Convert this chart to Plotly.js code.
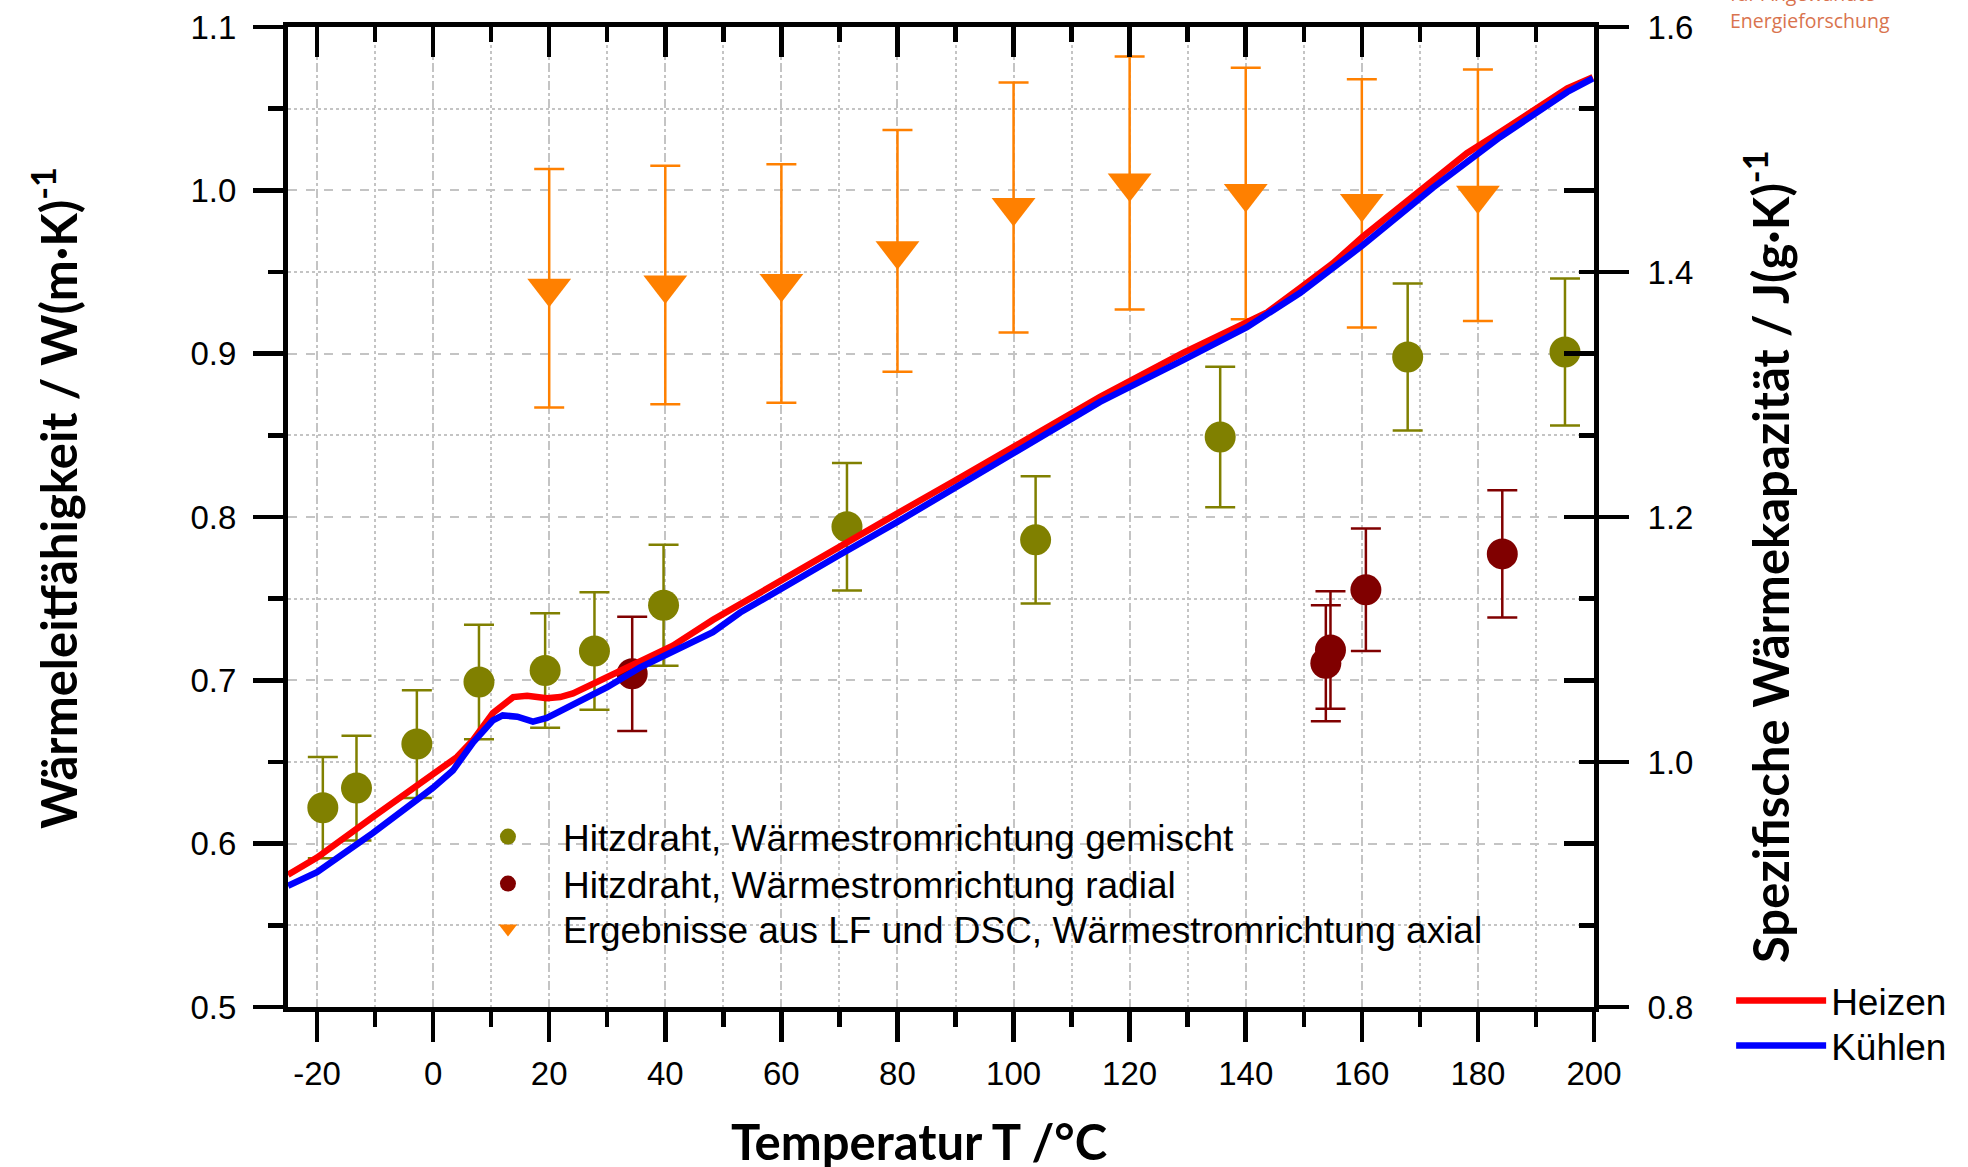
<!DOCTYPE html>
<html>
<head>
<meta charset="utf-8">
<script src="https://cdn.plot.ly/plotly-3.0.1.min.js"></script>
<style>html,body{margin:0;padding:0;background:#fff;}#chart{width:1968px;height:1167px;}</style>
</head>
<body>
<div id="chart"></div>
<script>
// Thermal conductivity measurements (left axis, W/(m·K))
const tempMixed   = [-19.0, -13.2, -2.8, 7.9, 19.3, 27.8, 39.7, 71.3, 103.8, 135.6, 167.9, 195.0];
const lambdaMixed = [0.622, 0.634, 0.661, 0.699, 0.706, 0.718, 0.746, 0.794, 0.786, 0.849, 0.898, 0.901];
const errMixed    = [0.031, 0.032, 0.033, 0.035, 0.035, 0.036, 0.037, 0.039, 0.039, 0.043, 0.045, 0.045];

const tempRadial   = [34.3, 153.8, 154.6, 160.7, 184.2];
const lambdaRadial = [0.704, 0.7105, 0.7186, 0.7554, 0.7774];
const errRadial    = [0.035, 0.0355, 0.036, 0.0375, 0.039];

const tempAxial   = [20, 40, 60, 80, 100, 120, 140, 160, 180];
const lambdaAxial = [0.940, 0.942, 0.943, 0.963, 0.9895, 1.0045, 0.998, 0.992, 0.997];
const errAxial    = [0.073, 0.073, 0.073, 0.074, 0.0765, 0.0775, 0.077, 0.076, 0.077];

// Specific heat capacity curves (right axis, J/(g·K))
const tempHeat = [-25, -20, -10.4, 0, 4.1, 6.9, 10.3, 13.8, 16.2, 19.6, 21.9, 24.1, 30, 35.6, 41.3, 48.2, 52.9, 60, 70, 80, 90, 100, 110, 114.9, 129.2, 140.2, 143.7, 149.4, 155, 160.2, 166.6, 172.3, 178.1, 183.8, 189.5, 195.4, 199.8];
const cpHeat   = [0.908, 0.922, 0.955, 0.991, 1.004, 1.018, 1.040, 1.053, 1.054, 1.052, 1.053, 1.056, 1.069, 1.082, 1.095, 1.116, 1.129, 1.149, 1.176, 1.203, 1.230, 1.257, 1.284, 1.298, 1.334, 1.359, 1.367, 1.387, 1.407, 1.429, 1.453, 1.475, 1.497, 1.514, 1.532, 1.550, 1.559];

const tempCool = [-25, -20, -10.4, 0, 3.4, 6.9, 10.3, 12.0, 14.5, 17.2, 19.6, 24.1, 30, 35.6, 41.3, 48.2, 52.9, 60, 70, 80, 90, 100, 110, 114.9, 129.2, 140.2, 149.4, 160.2, 172.3, 183.8, 195.4, 199.8];
const cpCool   = [0.899, 0.910, 0.942, 0.979, 0.993, 1.016, 1.034, 1.038, 1.037, 1.033, 1.036, 1.047, 1.061, 1.077, 1.090, 1.106, 1.122, 1.142, 1.169, 1.196, 1.224, 1.252, 1.281, 1.294, 1.328, 1.355, 1.383, 1.422, 1.469, 1.510, 1.547, 1.558];

// Tick labels
const xTickVals = [-20, 0, 20, 40, 60, 80, 100, 120, 140, 160, 180, 200];
const xTickText = ['-20', '0', '20', '40', '60', '80', '100', '120', '140', '160', '180', '200'];

// Titles
const xTitle  = 'Temperatur T /°C';
const yTitle  = 'Wärmeleitfähigkeit / W(m·K)<sup>-1</sup>';
const y2Title = 'Spezifische Wärmekapazität / J(g·K)<sup>-1</sup>';

const names = {
  mixed: 'Hitzdraht, Wärmestromrichtung gemischt',
  radial: 'Hitzdraht, Wärmestromrichtung radial',
  axial: 'Ergebnisse aus LF und DSC, Wärmestromrichtung axial',
  heat: 'Heizen',
  cool: 'Kühlen'
};

const OLIVE = '#808000', DARKRED = '#800000', ORANGE = '#ff8000';
const GRID = '#c4c4c4';
const TITLEFONT = {family: 'Lato, "Open Sans", sans-serif', size: 49, weight: 700, color: '#000'};
const LEGFONT = {family: '"Liberation Sans", Arial, sans-serif', size: 37, color: '#000'};

const traces = [
  {type: 'scatter', mode: 'markers', name: names.mixed, x: tempMixed, y: lambdaMixed,
   xaxis: 'x', yaxis: 'y', legend: 'legend',
   marker: {symbol: 'circle', size: 31, color: OLIVE},
   error_y: {type: 'data', array: errMixed, visible: true, color: OLIVE, thickness: 2.5, width: 15}},
  {type: 'scatter', mode: 'markers', name: names.radial, x: tempRadial, y: lambdaRadial,
   xaxis: 'x', yaxis: 'y', legend: 'legend3',
   marker: {symbol: 'circle', size: 31, color: DARKRED},
   error_y: {type: 'data', array: errRadial, visible: true, color: DARKRED, thickness: 2.5, width: 15}},
  {type: 'scatter', mode: 'markers', name: names.axial, x: tempAxial, y: lambdaAxial,
   xaxis: 'x', yaxis: 'y', legend: 'legend4',
   marker: {symbol: 'triangle-down', size: 38, color: ORANGE},
   error_y: {type: 'data', array: errAxial, visible: true, color: ORANGE, thickness: 2.5, width: 15}},
  {type: 'scatter', mode: 'lines', name: names.heat, x: tempHeat, y: cpHeat,
   xaxis: 'x', yaxis: 'y2', legend: 'legend2',
   line: {color: '#ff0000', width: 6.5}},
  {type: 'scatter', mode: 'lines', name: names.cool, x: tempCool, y: cpCool,
   xaxis: 'x', yaxis: 'y2', legend: 'legend5',
   line: {color: '#0000ff', width: 6.5}},
  // carrier for the mirrored top / right frame axes
  {type: 'scatter', mode: 'markers', x: [], y: [], xaxis: 'x2', yaxis: 'y3', showlegend: false, hoverinfo: 'skip'}
];

const tickCommon = {tickcolor: '#000', tickwidth: 4.5, showline: true, linecolor: '#000', linewidth: 5, zeroline: false};
function leg(x, y, w) {
  return {x: x, y: y, xanchor: 'left', yanchor: 'top', bgcolor: 'rgba(0,0,0,0)', borderwidth: 0,
          font: LEGFONT, itemsizing: 'trace', itemwidth: w, tracegroupgap: 0};
}

const layout = {
  width: 1968, height: 1167,
  margin: {l: 288, r: 374, t: 27, b: 160, pad: 0},
  paper_bgcolor: '#fff', plot_bgcolor: '#fff',
  font: {family: '"Liberation Sans", Arial, sans-serif', size: 33, color: '#000'},
  showlegend: true,
  xaxis: Object.assign({}, tickCommon, {
    range: [-25, 200.0001], tickmode: 'array', tickvals: xTickVals, ticktext: xTickText,
    ticks: 'outside', ticklen: 30, ticklabelstandoff: 3,
    showgrid: true, gridcolor: GRID, gridwidth: 2, griddash: 'dash',
    minor: {tickmode: 'linear', tick0: 0, dtick: 10, ticks: 'outside', ticklen: 15, tickwidth: 4.5, tickcolor: '#000',
            showgrid: true, gridcolor: GRID, gridwidth: 2, griddash: 'dot'}
  }),
  xaxis2: Object.assign({}, tickCommon, {
    overlaying: 'x', side: 'top', anchor: 'y3', range: [-25, 200.0001], tick0: 0, dtick: 20,
    ticks: 'inside', ticklen: 30, showticklabels: false, showgrid: false,
    minor: {dtick: 10, ticks: 'inside', ticklen: 15, tickwidth: 4.5, tickcolor: '#000', showgrid: false}
  }),
  yaxis: Object.assign({}, tickCommon, {
    range: [0.49999, 1.10001], tick0: 0.5, dtick: 0.1, tickformat: '.1f',
    ticks: 'outside', ticklen: 30, ticklabelstandoff: 10,
    showgrid: true, gridcolor: GRID, gridwidth: 2, griddash: 'dash',
    minor: {dtick: 0.05, ticks: 'outside', ticklen: 15, tickwidth: 4.5, tickcolor: '#000',
            showgrid: true, gridcolor: GRID, gridwidth: 2, griddash: 'dot'}
  }),
  yaxis2: Object.assign({}, tickCommon, {
    overlaying: 'y', side: 'right', anchor: 'x', range: [0.799987, 1.600013], tick0: 0.8, dtick: 0.2, tickformat: '.1f',
    ticks: 'outside', ticklen: 30, ticklabelstandoff: 12, showgrid: false
  }),
  yaxis3: Object.assign({}, tickCommon, {
    overlaying: 'y', side: 'right', anchor: 'x2', range: [0.49999, 1.10001], tick0: 0.5, dtick: 0.1,
    ticks: 'inside', ticklen: 30, showticklabels: false, showgrid: false,
    minor: {dtick: 0.05, ticks: 'inside', ticklen: 15, tickwidth: 4.5, tickcolor: '#000', showgrid: false}
  }),
  legend:  leg(0.1263, 0.2051, 100),
  legend3: leg(0.1263, 0.1571, 100),
  legend4: leg(0.1263, 0.1112, 100),
  legend2: leg(1.105, 0.0378, 90),
  legend5: leg(1.105, -0.0082, 90),
  annotations: [
    // axis titles
    {text: xTitle, xref: 'paper', yref: 'paper', x: 0.4832, y: -0.1365, xanchor: 'center', yanchor: 'middle',
     showarrow: false, font: TITLEFONT},
    {text: yTitle, xref: 'paper', yref: 'paper', x: -0.1784, y: 0.5194, xanchor: 'center', yanchor: 'middle',
     textangle: -90, showarrow: false, font: TITLEFONT},
    {text: y2Title, xref: 'paper', yref: 'paper', x: 1.1321, y: 0.4596, xanchor: 'center', yanchor: 'middle',
     textangle: -90, showarrow: false, font: TITLEFONT},
    // institute logo text (cut at the top edge as in the source)
    {text: 'für Angewandte', xref: 'paper', yref: 'paper', x: 1.1027, y: 1.0337, xanchor: 'left', yanchor: 'middle',
     showarrow: false, font: {family: '"Open Sans", sans-serif', size: 19.5, color: '#d9734e'}},
    {text: 'Energieforschung', xref: 'paper', yref: 'paper', x: 1.1027, y: 1.0071, xanchor: 'left', yanchor: 'middle',
     showarrow: false, font: {family: '"Open Sans", sans-serif', size: 19.5, color: '#d9734e'}}
  ]
};

Plotly.newPlot('chart', traces, layout, {displayModeBar: false, staticPlot: true});
</script>
</body>
</html>
